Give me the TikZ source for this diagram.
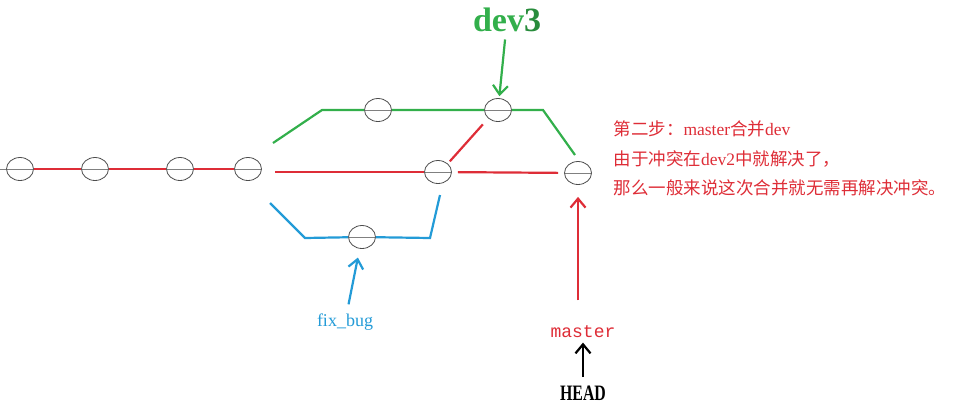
\documentclass[tikz,border=0pt]{standalone}
\usepackage{fontspec}
\setmainfont{Liberation Serif}
\setmonofont{Liberation Mono}
\newfontfamily\cjk{Noto Sans CJK SC}
\usetikzlibrary{shapes.geometric,arrows.meta,calc}
\definecolor{gitred}{RGB}{222,45,55}
\definecolor{gitgreen}{RGB}{50,175,75}
\definecolor{gitblue}{RGB}{35,155,215}
\tikzset{
  commit/.style={ellipse,draw=black!70,thick,minimum width=27pt,minimum height=23pt,inner sep=0pt,
    path picture={\draw[black!50,thick] (path picture bounding box.west) -- (path picture bounding box.east);}},
  branch/.style={line width=2.2pt},
  pointer/.style={-{Straight Barb[length=9pt,width=15pt]},line width=2.2pt},
  note/.style={anchor=west,text=gitred,font=\fontsize{17.5}{17.5}\selectfont}
}

\begin{document}
\begin{tikzpicture}[x=1pt,y=-1pt]
\useasboundingbox (0,0) rectangle (978,413);
% commits
\node[commit] (C1) at (20,169) {};
\node[commit] (C2) at (95,169) {};
\node[commit] (C3) at (180,169) {};
\node[commit] (C4) at (248,169) {};
\node[commit] (G1) at (378,110) {};
\node[commit] (G2) at (498,110) {};
\node[commit] (R1) at (438,172) {};
\node[commit] (R2) at (578,173) {};
\node[commit] (B1) at (362,237) {};
% bends
\coordinate (S) at (0,169);
\coordinate (g0) at (273,143);
\coordinate (g1) at (322,110);
\coordinate (g2) at (543,110);
\coordinate (g3) at (575,155);
\coordinate (r0) at (275,172);
\coordinate (b0) at (270,203);
\coordinate (b1) at (305,238);
\coordinate (b2) at (430,238);
\coordinate (b3) at (440,195);
% master
\draw[black!50,thick] (S)--(C1);
\draw[branch,gitred] (C1)--(C2)--(C3)--(C4);
\draw[branch,gitred] (r0)--(R1);
\draw[branch,gitred,shorten <=6pt,shorten >=6pt] (R1)--(R2);
\draw[branch,gitred,shorten <=3pt,shorten >=8pt] (R1.north east)--(G2.south west);
% dev
\draw[branch,gitgreen] (g0)--(g1)--(G1)--(G2)--(g2)--(g3);
% fix_bug
\draw[branch,gitblue] (b0)--(b1)--(B1)--(b2)--(b3);
% labels
\node[text=gitgreen,font=\fontsize{34}{34}\bfseries] (dev) at (507,20) {dev\textcolor{gitgreen!80!black}{3}};
\node[text=gitblue,font=\fontsize{18}{18}\selectfont] (fix) at (345,322) {fix\_bug};
\node[text=gitred,font=\fontsize{18}{18}\ttfamily] (master) at (583,332) {master};
\node[font=\fontsize{22}{22}\bfseries] (head) at (583,393) {\scalebox{0.72}[1]{HEAD}};
\draw[pointer,gitgreen,shorten <=4pt,shorten >=2pt] (dev)--(G2);
\draw[pointer,gitblue,shorten <=6pt,shorten >=9pt] (fix)--(B1);
\draw[pointer,gitred,shorten <=22pt,shorten >=12pt] (master.north west-|R2)--(R2);
\draw[pointer,black,shorten <=5pt,shorten >=1pt] (head)--(master);
% note
\node[note] (n1) at (610,129) {{\cjk 第二步：}master{\cjk 合并}dev};
\node[note] (n2) at (610,159) {{\cjk 由于冲突在}dev2{\cjk 中就解决了，}};
\node[note] (n3) at (610,188) {\cjk 那么一般来说这次合并就无需再解决冲突。};
\end{tikzpicture}
\end{document}
